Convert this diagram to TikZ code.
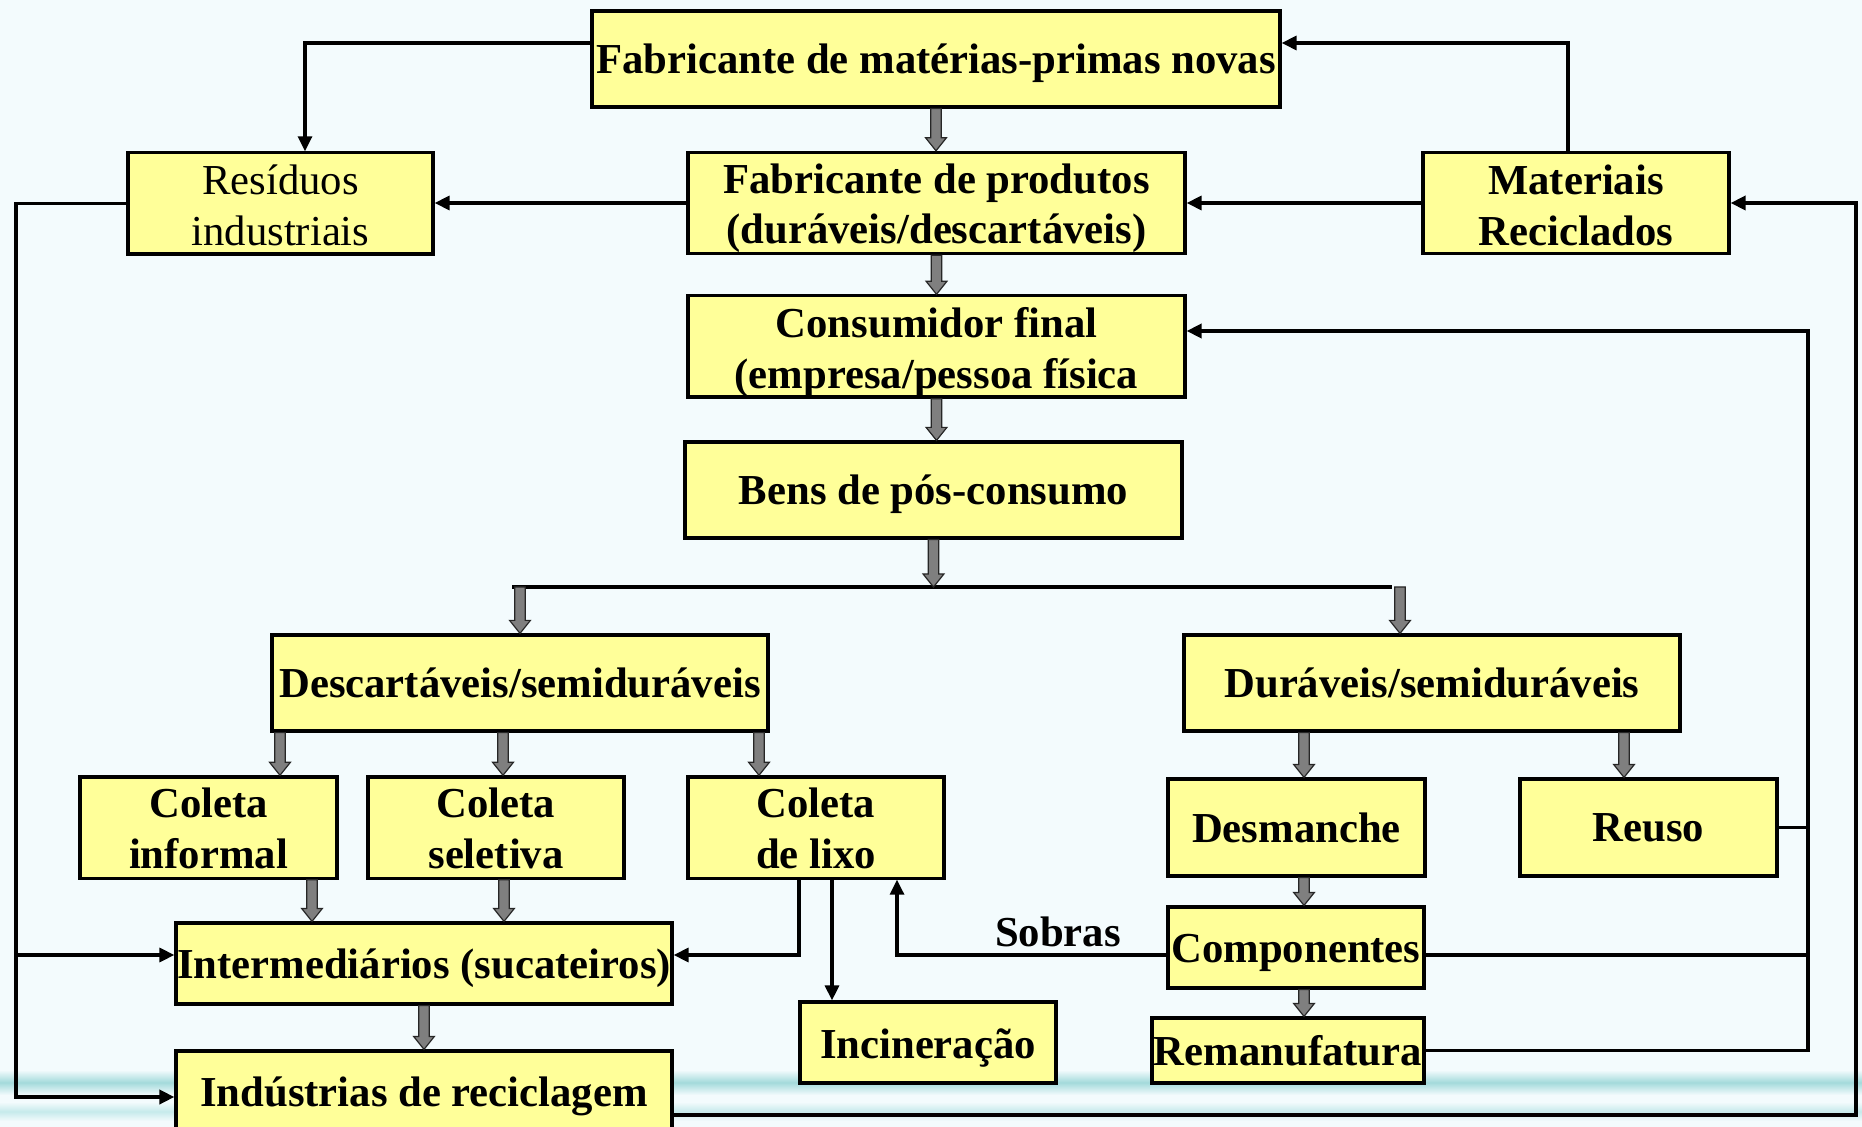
\documentclass[tikz,border=0pt]{standalone}
\usepackage{fontspec}
\setmainfont{Liberation Serif}
\usetikzlibrary{arrows.meta,calc}
\definecolor{bg}{HTML}{F3FBFD}
\definecolor{boxy}{HTML}{FFFF99}
\definecolor{teala}{HTML}{A3DADB}
\definecolor{tealb}{HTML}{C6EAEB}
\definecolor{garrowfill}{HTML}{7F7F7F}
\newcommand\lowtxt[2][2pt]{\raisebox{-#1}[\height][\depth]{\begin{tabular}{@{}c@{}}#2\end{tabular}}}
\begin{document}
\begin{tikzpicture}[x=0.5pt,y=-0.5pt,
  box/.style={draw=black, line width=1.6pt, fill=boxy, rectangle, inner sep=0pt, align=center,
    font=\fontsize{21.35pt}{25.3pt}\selectfont\bfseries},
  boxr/.style={box, font=\fontsize{21.35pt}{25.3pt}\selectfont},
  wh/.style 2 args={minimum width=#1pt, minimum height=#2pt},
  lbl/.style={inner sep=0pt, font=\fontsize{21.35pt}{25.3pt}\selectfont\bfseries},
  conn/.style={line width=1.6pt},
  arr/.style={conn, -{Triangle[length=7.5pt,width=7pt]}},
  garrow/.style={draw=black!85, fill=garrowfill, line width=0.6pt, line join=miter,
    to path={let \p1=(\tikztostart), \p2=(\tikztotarget) in
      (\x1-2.6pt,\y1) -- (\x1-2.6pt,\y2+6.5pt) -- (\x1-5.2pt,\y2+6.5pt) -- (\x1,\y2)
      -- (\x1+5.2pt,\y2+6.5pt) -- (\x1+2.6pt,\y2+6.5pt) -- (\x1+2.6pt,\y1) -- cycle}}
]
\useasboundingbox (0,0) rectangle (1862,1127);
\clip (0,0) rectangle (1862,1127);
\fill[bg] (0,0) rectangle (1862,1127);
\shade[top color=bg, bottom color=bg, middle color=teala] (0,1070) rectangle (1862,1095);
\shade[top color=bg, bottom color=bg, middle color=tealb] (0,1102) rectangle (1862,1121);

% nodes
\node[box, wh={344}{48}] (top) at (936,59) {\lowtxt[2.4pt]{Fabricante de matérias-primas novas}};
\node[boxr, wh={152.5}{48.5}] (res) at (280.5,203.5) {\lowtxt[3.3pt]{Resíduos\\industriais}};
\node[box, wh={248.5}{49}] (fabp) at (936.5,203) {\lowtxt[2.7pt]{Fabricante de produtos\\(duráveis/descartáveis)}};
\node[box, wh={153}{49}] (mat) at (1576,203) {\lowtxt[3.3pt]{Materiais\\Reciclados}};
\node[box, wh={248.5}{47.5}] (cons) at (936.5,346.5) {\lowtxt[3.3pt]{Consumidor final\\(empresa/pessoa física}};
\node[box, wh={248.5}{48}] (bens) at (933.5,490) {\lowtxt[2.4pt]{Bens de pós-consumo}};
\node[box, wh={248}{48}] (desc) at (520,683) {\lowtxt[2.4pt]{Descartáveis/semiduráveis}};
\node[box, wh={248}{48}] (dur) at (1432,683) {\lowtxt[2.4pt]{Duráveis/semiduráveis}};
\node[box, wh={128.5}{48.5}] (inf) at (208.5,827.5) {\lowtxt[2.7pt]{Coleta\hspace{5pt}\\informal}};
\node[box, wh={128}{48.5}] (sel) at (496,827.5) {\lowtxt[2.7pt]{Coleta\hspace{5pt}\\seletiva}};
\node[box, wh={128}{48.5}] (lixo) at (816,827.5) {\lowtxt[2.7pt]{Coleta\hspace{3pt}\\de lixo}};
\node[box, wh={128.5}{48.5}] (desm) at (1296.5,827.5) {Desmanche};
\node[box, wh={128.5}{48.5}] (reuso) at (1648.5,827.5) {Reuso};
\node[box, wh={248}{40.5}] (interm) at (424,963.5) {\lowtxt[2.4pt]{Intermediários (sucateiros)}};
\node[box, wh={128}{40.5}] (comp) at (1296,947.5) {\lowtxt[2.4pt]{Componentes}};
\node[box, wh={128}{40.5}] (incin) at (928,1042.5) {\lowtxt[3pt]{Incineração}};
\node[box, wh={136}{32.5}] (reman) at (1288,1050.5) {Remanufatura};
\node[box, wh={248}{43}] (ind) at (424,1094) {\lowtxt[1.2pt]{Indústrias de reciclagem}};
\node[lbl, anchor=base] (sob) at (1058,946) {Sobras};

% coordinates
\coordinate (k1) at (305,43);
\coordinate (k2) at (1568,43);
\coordinate (L1) at (16,0);
\coordinate (yI) at (0,955);
\coordinate (yN) at (0,1097);
\coordinate (R1) at (1856,1115);
\coordinate (R3) at (1808,331);
\coordinate (S1) at (897,955);
\coordinate (X1) at (799,955);
\coordinate (X2) at (832,0);
\coordinate (jL) at (512,587);
\coordinate (jR) at (1392,587);
\coordinate (jC) at (935,587);
\coordinate (gA) at (280,0);
\coordinate (gB) at (503,0);
\coordinate (gC) at (759,0);
\coordinate (gD) at (1304,0);
\coordinate (gE) at (1624,0);
\coordinate (gF) at (312,0);
\coordinate (gG) at (504,0);
\coordinate (gH) at (1400,587);

% thin connectors
\draw[arr] (top.west |- k1) -- (k1) -- (k1 |- res.north);
\draw[arr] (k2 |- mat.north) -- (k2) -- (top.east |- k2);
\draw[arr] (fabp.west) -- (res.east |- fabp.west);
\draw[arr] (mat.west) -- (fabp.east |- mat.west);
\draw[arr, line width=1.8pt] (res.west) -- (L1 |- res.west) -- (L1 |- yN) -- (ind.west |- yN);
\draw[arr] (L1 |- yI) -- (interm.west |- yI);
\draw[arr, line width=1.8pt] (ind.east |- R1) -- (R1) -- (R1 |- mat.east) -- (mat.east);
\draw[arr, line width=1.8pt] (reman.east) -- (R3 |- reman.east) -- (R3) -- (cons.east |- R3);
\draw[conn] (reuso.east) -- (R3 |- reuso.east);
\draw[conn] (comp.east |- S1) -- (R3 |- S1);
\draw[arr] (comp.west |- S1) -- (S1) -- (S1 |- lixo.south);
\draw[arr] (X1 |- lixo.south) -- (X1) -- (interm.east |- X1);
\draw[arr] (X2 |- lixo.south) -- (X2 |- incin.north);
\draw[line width=1.9pt] (jL) -- (jR);

% gray block arrows
\draw[garrow] (top.south) to (fabp.north);
\draw[garrow] (fabp.south) to (cons.north);
\draw[garrow] (cons.south) to (bens.north);
\draw[garrow] (bens.south) to (jC);
\draw[garrow] (desc.north |- jL) to (desc.north);
\draw[garrow] (gH) to (gH |- dur.north);
\draw[garrow] (gA |- desc.south) to (gA |- inf.north);
\draw[garrow] (gB |- desc.south) to (gB |- sel.north);
\draw[garrow] (gC |- desc.south) to (gC |- lixo.north);
\draw[garrow] (gD |- dur.south) to (gD |- desm.north);
\draw[garrow] (gE |- dur.south) to (gE |- reuso.north);
\draw[garrow] (gD |- desm.south) to (gD |- comp.north);
\draw[garrow] (gD |- comp.south) to (gD |- reman.north);
\draw[garrow] (gF |- inf.south) to (gF |- interm.north);
\draw[garrow] (gG |- sel.south) to (gG |- interm.north);
\draw[garrow] (interm.south) to (ind.north);
\end{tikzpicture}
\end{document}
